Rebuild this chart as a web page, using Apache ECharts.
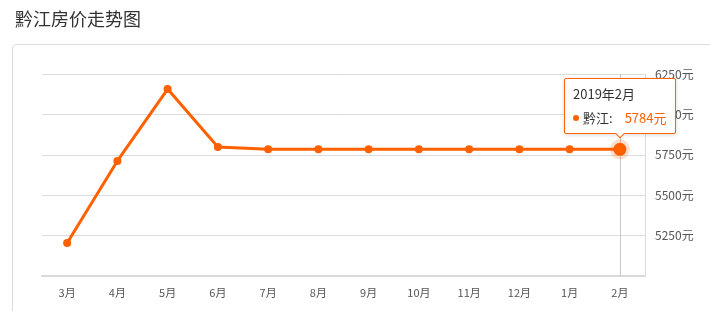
<!DOCTYPE html>
<html>
<head>
<meta charset="utf-8">
<script src="https://cdn.jsdelivr.net/npm/echarts@6/dist/echarts.min.js"></script>
<style>
html,body{margin:0;padding:0;background:#fff;}
#c{width:710px;height:311px;}
</style>
</head>
<body>
<div id="c"></div>
<script>
var titleText = '黔江房价走势图';
var seriesName = '黔江';
var categories = ['3月','4月','5月','6月','7月','8月','9月','10月','11月','12月','1月','2月'];
var values = [5204, 5712, 6157, 5798, 5784, 5784, 5784, 5784, 5784, 5784, 5784, 5784];
var tipLabels = ['2018年3月','2018年4月','2018年5月','2018年6月','2018年7月','2018年8月','2018年9月','2018年10月','2018年11月','2018年12月','2019年1月','2019年2月'];
var yMin = 5000, yMax = 6250, yStep = 250;
var activeIndex = 11;

var orange = '#ff6000';
var fontFam = '"Noto Sans CJK SC", "Microsoft YaHei", sans-serif';

var seriesData = values.map(function (v, i) {
  if (i === activeIndex) {
    return { value: v, symbolSize: 13, itemStyle: { color: orange, borderColor: 'rgba(255,96,0,0.2)', borderWidth: 7 } };
  }
  return v;
});

var chart = echarts.init(document.getElementById('c'), null, { renderer: 'canvas' });
chart.setOption({
  animation: false,
  textStyle: { fontFamily: fontFam },
  title: {
    text: titleText,
    left: 10, top: 5,
    textStyle: { fontSize: 18, fontWeight: 'normal', color: '#333', fontFamily: fontFam }
  },
  graphic: [{
    type: 'rect',
    shape: { x: 12.5, y: 44.5, width: 720, height: 300, r: 4 },
    style: { fill: 'none', stroke: '#dcdcdc', lineWidth: 1 },
    silent: true, z: -1
  }],
  grid: { left: 42, right: 65, top: 74, bottom: 35 },
  tooltip: {
    trigger: 'item',
    triggerOn: 'none',
    alwaysShowContent: true,
    position: 'top',
    backgroundColor: '#fff',
    borderColor: orange,
    borderWidth: 1,
    borderRadius: 2,
    padding: [6, 8, 6, 8],
    extraCssText: 'box-shadow: 0 1px 4px rgba(0,0,0,0.15); margin-top:5px;',
    textStyle: { color: '#333', fontSize: 13, fontFamily: fontFam },
    formatter: function (p) {
      return '<div style="line-height:18px;font-size:13px;color:#333">' + tipLabels[p.dataIndex] + '</div>' +
        '<div style="line-height:18px;margin-top:6px;font-size:13px;color:#333">' +
        '<span style="display:inline-block;width:6px;height:6px;border-radius:3px;background:' + orange + ';margin-right:4px;vertical-align:middle;position:relative;top:-1px"></span>' +
        p.seriesName + ':<span style="color:' + orange + ';font-size:13px;margin-left:12px">' + p.value + '元</span></div>';
    }
  },
  xAxis: {
    type: 'category',
    data: categories,
    boundaryGap: true,
    axisLine: { lineStyle: { color: '#d9d9d9', width: 2 } },
    axisTick: { alignWithLabel: true, length: 5, lineStyle: { color: '#dcdcdc' } },
    axisLabel: { color: '#555', fontSize: 11, margin: 11, fontFamily: fontFam },
    axisPointer: {
      show: true, value: activeIndex, status: 'show', type: 'line', triggerTooltip: false,
      z: 1,
      lineStyle: { color: '#c8c8c8', width: 1, type: 'solid' },
      label: { show: false }
    }
  },
  yAxis: {
    type: 'value',
    position: 'right',
    min: yMin, max: yMax, interval: yStep,
    axisLine: { show: true, lineStyle: { color: '#dcdcdc', width: 1 } },
    axisTick: { show: false },
    splitLine: { lineStyle: { color: '#dcdcdc', width: 1 } },
    axisLabel: {
      color: '#555', fontSize: 12, margin: 10, showMinLabel: false, fontFamily: fontFam,
      formatter: function (v) { return v + '元'; }
    }
  },
  series: [{
    name: seriesName,
    type: 'line',
    data: seriesData,
    symbol: 'circle',
    symbolSize: 8,
    showAllSymbol: true,
    z: 3,
    lineStyle: { color: orange, width: 3 },
    itemStyle: { color: orange },
    emphasis: { disabled: true }
  }]
});
chart.dispatchAction({ type: 'showTip', seriesIndex: 0, dataIndex: activeIndex });
</script>
</body>
</html>
